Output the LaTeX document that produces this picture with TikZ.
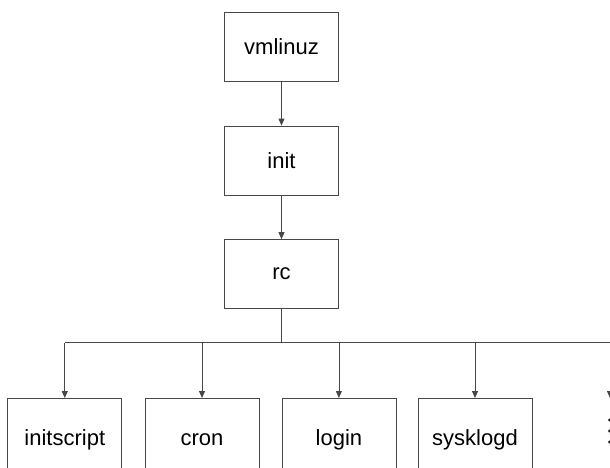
\documentclass[tikz,border=0pt]{standalone}
\usepackage{fontspec}
\setmainfont{Liberation Sans}
\usetikzlibrary{arrows.meta}
\begin{document}
\begin{tikzpicture}[x=1pt,y=-1pt,
  line/.style={draw=black!72,line width=0.8pt},
  arr/.style={line,-{Triangle[length=7pt,width=6pt]}},
  proc/.style={line,rectangle,minimum width=114pt,minimum height=69pt,
    inner sep=0pt,font=\fontsize{22}{24}\selectfont,text=black},
  lowproc/.style={proc,minimum height=82pt}]
  \useasboundingbox (0,0) rectangle (610,467);
  \clip (0,0) rectangle (610,467);
  % boot chain
  \node[proc] (vm)   at (281.5,46.5) {vmlinuz};
  \node[proc] (init) at (281.5,160.5) {init};
  \node[proc] (rc)   at (281.5,274) {rc};
  \draw[arr] (vm) -- (init);
  \draw[arr] (init) -- (rc);
  % processes started by rc
  \node[lowproc, anchor=north] (is) at (64.8,398) {\raisebox{-6.5pt}{initscript}};
  \node[lowproc, anchor=north] (cr) at (202,398) {\raisebox{-6.5pt}{cron}};
  \node[lowproc, anchor=north] (lg) at (338.9,398) {\raisebox{-6.5pt}{login}};
  \node[lowproc, anchor=north] (sl) at (475,398) {\raisebox{-6.5pt}{sysklogd}};
  \coordinate (bus) at (281.5,342.5);
  \coordinate (more) at (610,398);
  \draw[line] (rc) -- (bus);
  \draw[line] (is.north |- bus) -- (more |- bus);
  \foreach \n in {is,cr,lg,sl}
    \draw[arr] (\n.north |- bus) -- (\n.north);
  \draw[arr] (more |- bus) -- (more);
  \foreach \yy in {420,431,442}
    \fill[black!85] (609.5,\yy) circle (1.6pt);
\end{tikzpicture}
\end{document}
